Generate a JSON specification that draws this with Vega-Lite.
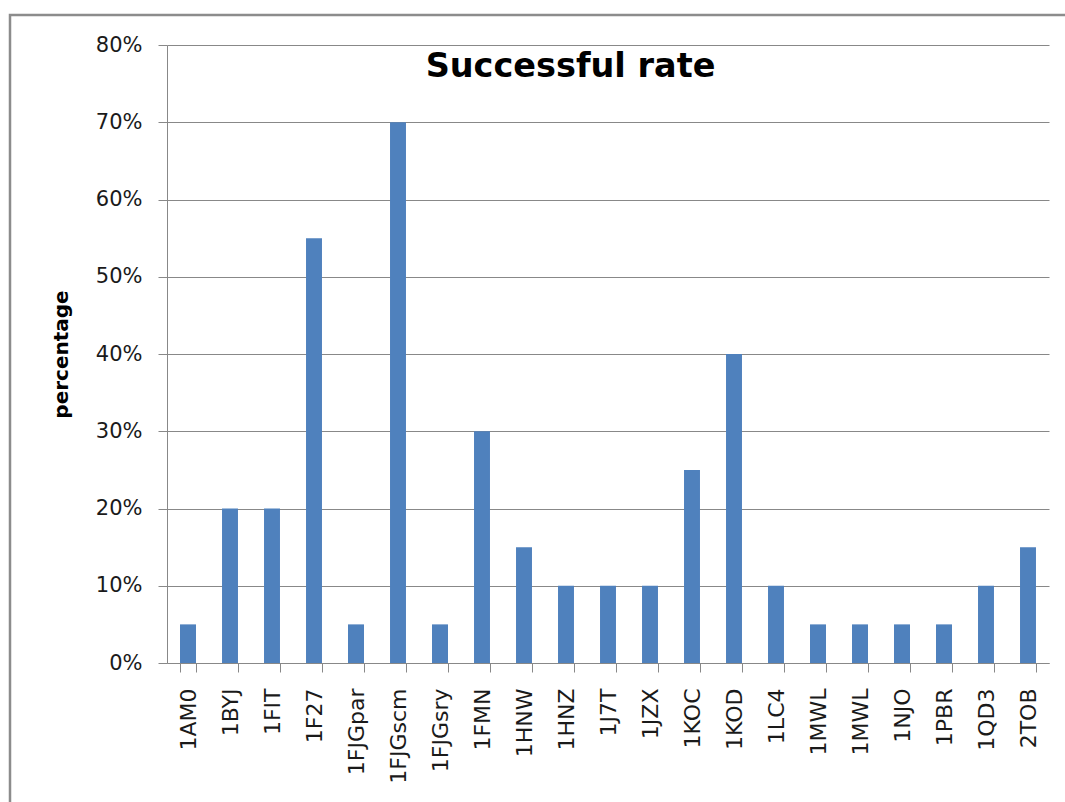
{
  "$schema": "https://vega.github.io/schema/vega-lite/v6.json",
  "width": 1065,
  "height": 800,
  "autosize": "none",
  "padding": {"left": 10, "top": 15, "right": 0, "bottom": 0},
  "background": "white",
  "config": {
    "view": {"stroke": "#8c8c8c", "strokeWidth": 2.5},
    "font": "DejaVu Sans"
  },
  "title": {
    "text": "Successful rate",
    "font": "DejaVu Sans",
    "fontSize": 33.5,
    "fontWeight": "bold",
    "color": "#000000",
    "anchor": "middle",
    "frame": "group",
    "baseline": "alphabetic",
    "offset": 0,
    "dx": 28,
    "dy": 95
  },
  "data": {
    "values": [
      {"structure": "1AM0", "rate": 0.05},
      {"structure": "1BYJ", "rate": 0.20},
      {"structure": "1FIT", "rate": 0.20},
      {"structure": "1F27", "rate": 0.55},
      {"structure": "1FJGpar", "rate": 0.05},
      {"structure": "1FJGscm", "rate": 0.70},
      {"structure": "1FJGsry", "rate": 0.05},
      {"structure": "1FMN", "rate": 0.30},
      {"structure": "1HNW", "rate": 0.15},
      {"structure": "1HNZ", "rate": 0.10},
      {"structure": "1J7T", "rate": 0.10},
      {"structure": "1JZX", "rate": 0.10},
      {"structure": "1KOC", "rate": 0.25},
      {"structure": "1KOD", "rate": 0.40},
      {"structure": "1LC4", "rate": 0.10},
      {"structure": "1MWL", "rate": 0.05},
      {"structure": "1MWL_2", "rate": 0.05},
      {"structure": "1NJO", "rate": 0.05},
      {"structure": "1PBR", "rate": 0.05},
      {"structure": "1QD3", "rate": 0.10},
      {"structure": "2TOB", "rate": 0.15}
    ]
  },
  "mark": {"type": "bar", "color": "#4F81BD"},
  "encoding": {
    "x": {
      "field": "structure",
      "type": "nominal",
      "sort": null,
      "title": null,
      "scale": {"range": [157, 1039], "paddingInner": 0.62, "paddingOuter": 0.31},
      "axis": {
        "title": null,
        "offset": -152,
        "labelExpr": "isString(datum.value) ? split(datum.value, '_')[0] : ''",
        "labelAngle": -90,
        "labelFont": "DejaVu Sans",
        "labelFontSize": 22,
        "labelColor": "#1a1a1a",
        "labelPadding": 16,
        "ticks": true,
        "tickBand": "extent",
        "tickSize": 9,
        "tickColor": "#888888",
        "domainColor": "#888888",
        "grid": false
      }
    },
    "y": {
      "field": "rate",
      "type": "quantitative",
      "scale": {"domain": [0, 0.8], "range": [648, 30], "nice": false},
      "axis": {
        "title": "percentage",
        "titleFont": "DejaVu Sans",
        "titleFontSize": 20,
        "titleFontWeight": "bold",
        "titleColor": "#000000",
        "titlePadding": 24,
        "offset": -157,
        "values": [0, 0.1, 0.2, 0.3, 0.4, 0.5, 0.6, 0.7, 0.8],
        "format": ".0%",
        "labelFont": "DejaVu Sans",
        "labelFontSize": 21,
        "labelColor": "#1a1a1a",
        "labelPadding": 16,
        "tickSize": 9,
        "tickColor": "#888888",
        "domainColor": "#888888",
        "grid": true,
        "gridColor": "#888888"
      }
    }
  }
}
